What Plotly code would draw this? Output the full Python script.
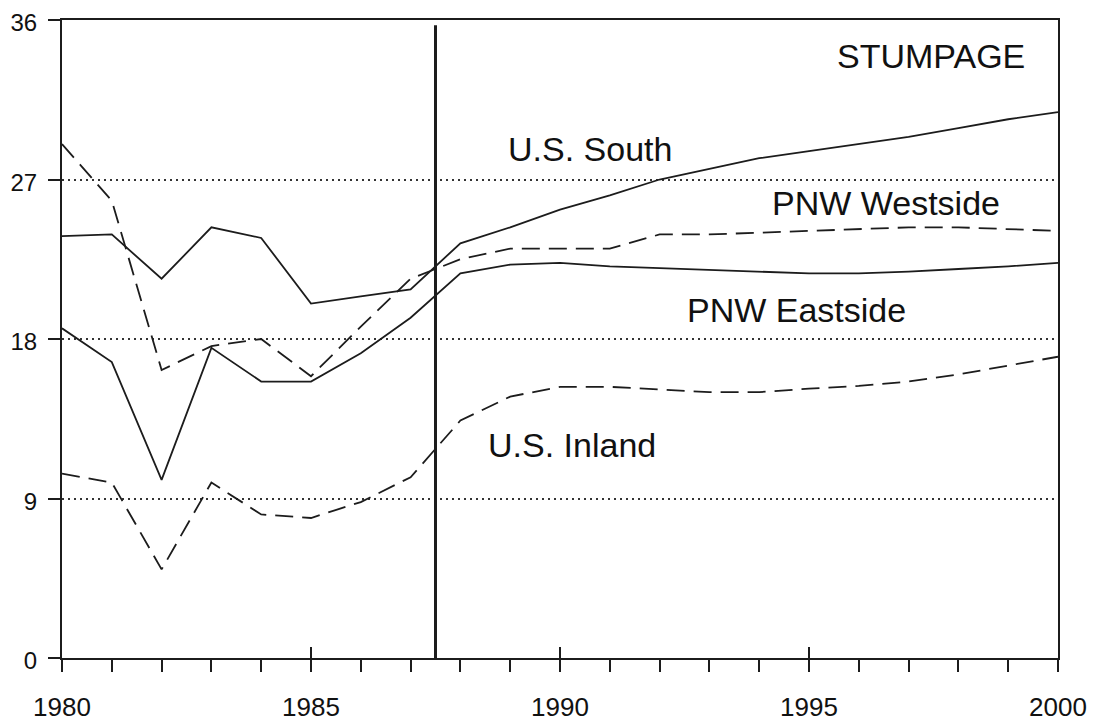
import plotly.graph_objects as go

years = list(range(1980, 2001))

us_south = [23.8, 23.9, 21.4, 24.3, 23.7, 20.0, 20.4, 20.8, 23.4, 24.3, 25.3,
            26.1, 27.0, 27.6, 28.2, 28.6, 29.0, 29.4, 29.9, 30.4, 30.8]
pnw_westside = [29.0, 25.8, 16.25, 17.6, 18.0, 15.9, 18.7, 21.4, 22.5, 23.1, 23.1,
                23.1, 23.9, 23.9, 24.0, 24.1, 24.2, 24.3, 24.3, 24.2, 24.1]
pnw_eastside = [18.6, 16.7, 10.05, 17.5, 15.6, 15.6, 17.2, 19.2, 21.7, 22.2, 22.3,
                22.1, 22.0, 21.9, 21.8, 21.7, 21.7, 21.8, 21.95, 22.1, 22.3]
us_inland = [10.4, 9.9, 5.0, 9.9, 8.1, 7.9, 8.8, 10.2, 13.4, 14.75, 15.3,
             15.3, 15.15, 15.0, 15.0, 15.2, 15.35, 15.6, 16.0, 16.5, 17.0]

x_ticks = [1980, 1985, 1990, 1995, 2000]
y_ticks = [0, 9, 18, 27, 36]
projection_start = 1987.5

# label text, x, y
labels = [
    ("STUMPAGE", 1997.45, 33.95),
    ("U.S. South", 1990.6, 28.7),
    ("PNW Westside", 1996.55, 25.7),
    ("PNW Eastside", 1994.75, 19.65),
    ("U.S. Inland", 1990.25, 12.0),
]

INK = "#1c1c1c"
FONT = "Liberation Sans, Arial, sans-serif"

fig = go.Figure()

series = [
    (us_south, "solid"),
    (pnw_westside, "18px,9px"),
    (pnw_eastside, "solid"),
    (us_inland, "18px,9px"),
]
for vals, dash in series:
    fig.add_trace(
        go.Scatter(
            x=years,
            y=vals,
            mode="lines",
            line=dict(color=INK, width=1.8, dash=dash),
            showlegend=False,
            hoverinfo="skip",
        )
    )

# dummy trace so the overlay axis (inner major ticks) is drawn
fig.add_trace(
    go.Scatter(x=[1980], y=[0], xaxis="x2", mode="markers",
               marker=dict(opacity=0), showlegend=False, hoverinfo="skip")
)

# vertical line separating history from projection
fig.add_shape(
    type="line", x0=projection_start, x1=projection_start, y0=0, y1=35.7,
    xref="x", yref="y", line=dict(color=INK, width=3),
)

for text, lx, ly in labels:
    fig.add_annotation(
        x=lx, y=ly, text=text, showarrow=False,
        font=dict(family=FONT, size=34, color="#111111"),
        xanchor="center", yanchor="middle",
    )

# page has an 8px body margin, so the figure is shrunk by that amount
fig.update_layout(
    width=1088,
    height=715,
    margin=dict(l=54, r=38, t=12, b=65, autoexpand=False),
    paper_bgcolor="white",
    plot_bgcolor="white",
    font=dict(family=FONT, color="#111111"),
    xaxis=dict(
        range=[1980, 2000],
        tickvals=x_ticks,
        ticktext=[str(v) for v in x_ticks],
        ticks="outside",
        ticklen=12,
        tickwidth=1.5,
        tickcolor=INK,
        minor=dict(dtick=1, tick0=1980, ticks="outside", ticklen=12,
                   tickwidth=1.5, tickcolor=INK, showgrid=False),
        showgrid=False,
        zeroline=False,
        showline=True,
        linecolor=INK,
        linewidth=2,
        mirror=True,
        automargin=False,
        ticklabeloverflow="allow",
        tickfont=dict(size=26, family=FONT, color="#111111"),
        ticklabelstandoff=13,
    ),
    xaxis2=dict(
        range=[1980, 2000],
        overlaying="x",
        anchor="y",
        side="bottom",
        tickvals=x_ticks[1:-1],
        ticks="inside",
        ticklen=11,
        tickwidth=1.5,
        tickcolor=INK,
        showticklabels=False,
        showgrid=False,
        zeroline=False,
        showline=False,
        automargin=False,
    ),
    yaxis=dict(
        range=[0, 36],
        tickvals=y_ticks,
        ticks="outside",
        ticklen=12,
        tickwidth=1.5,
        tickcolor=INK,
        showgrid=True,
        gridcolor="#333333",
        gridwidth=1.5,
        griddash="2px,4px",
        zeroline=False,
        showline=True,
        linecolor=INK,
        linewidth=2,
        mirror=True,
        automargin=False,
        ticklabeloverflow="allow",
        tickfont=dict(size=24, family=FONT, color="#111111"),
        ticklabelstandoff=6,
        ticklabelshift=3,
    ),
)

fig.write_html("out.html")
